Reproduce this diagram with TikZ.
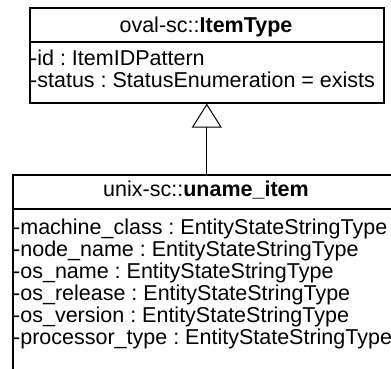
\documentclass[tikz,border=0pt]{standalone}
\usepackage{fontspec}
\setmainfont{Liberation Sans}
\usetikzlibrary{arrows.meta}
\newcommand\usc{\char"5F\relax}
\frenchspacing
\begin{document}
\begin{tikzpicture}[x=1pt,y=-1pt,
  box/.style={draw,line width=1.6pt,rectangle,inner sep=0pt},
  txt/.style={inner sep=0pt,anchor=base west,font=\fontsize{21.5}{22}\selectfont},
  ttl/.style={inner sep=0pt,anchor=base,font=\fontsize{21.5}{22}\selectfont},
  sep/.style={line width=1.6pt},
  gen/.style={line width=1pt,-{Triangle[open,length=24pt,width=30pt,line width=1pt]}}]
\useasboundingbox (0,0) rectangle (391,369);
% superclass
\node[box,minimum width=354pt,minimum height=95pt,anchor=north west] (sup) at (29,7) {};
\draw[sep] (29,42) -- (383,42);
\node[ttl] (supt) at (206,33) {oval-sc::\textbf{ItemType}};
\node[txt] (a1) at (30,66) {-id : ItemIDPattern};
\node[txt] (a2) at (30,88) {-status : StatusEnumeration = exists};
% subclass
\node[box,minimum width=388pt,minimum height=200pt,anchor=north west] (sub) at (12,174) {};
\draw[sep] (12,209) -- (400,209);
\node[ttl] (subt) at (206,196) {unix-sc::\textbf{uname\usc item}};
\node[txt] (b1) at (13,234) {-machine\usc class : EntityStateStringType};
\node[txt] (b2) at (13,256) {-node\usc name : EntityStateStringType};
\node[txt] (b3) at (13,278) {-os\usc name : EntityStateStringType};
\node[txt] (b4) at (13,300) {-os\usc release : EntityStateStringType};
\node[txt] (b5) at (13,322) {-os\usc version : EntityStateStringType};
\node[txt] (b6) at (13,344) {-processor\usc type : EntityStateStringType};
% generalization
\draw[gen] (sub.north -| sup.south) -- (sup.south);
\end{tikzpicture}
\end{document}
